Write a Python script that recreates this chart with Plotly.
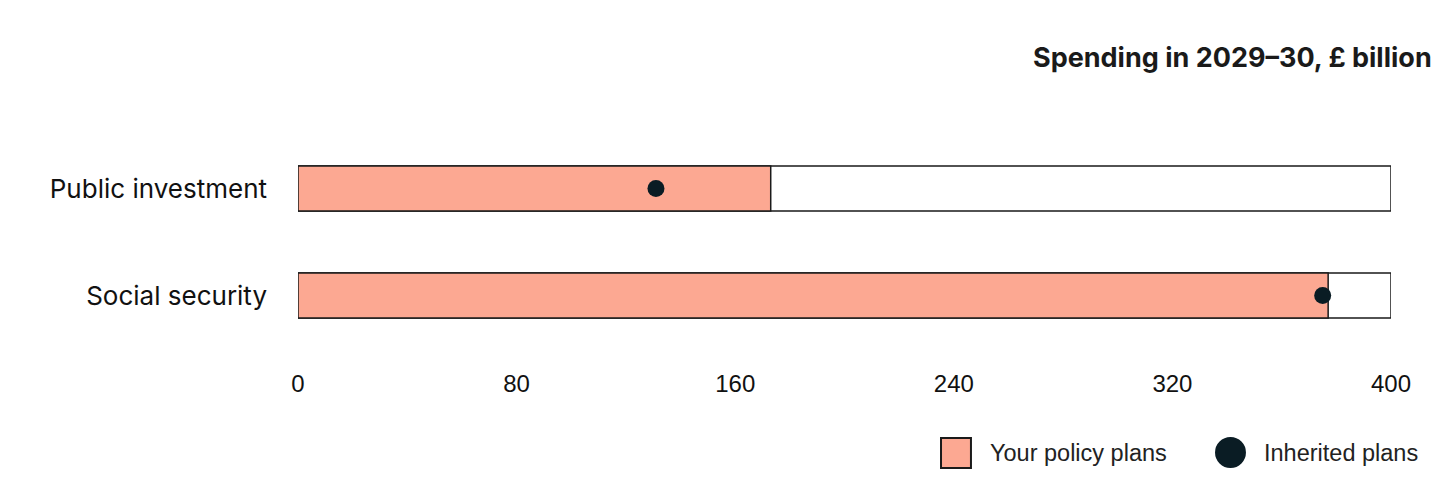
import plotly.graph_objects as go

categories = ["Public investment", "Social security"]
axis_max = [400, 400]
policy_plans = [173, 377]
inherited_plans = [131, 375]
tick_values = [0, 80, 160, 240, 320, 400]
tick_labels = ["0", "80", "160", "240", "320", "400"]

PINK = "#FCA892"
DARK = "#0A1C24"
EDGE = "#1a1a1a"

fig = go.Figure()
fig.add_trace(go.Bar(
    y=categories, x=axis_max, orientation="h", width=0.42,
    marker=dict(color="white", line=dict(color=EDGE, width=1.5)),
    showlegend=False, hoverinfo="skip"))
fig.add_trace(go.Bar(
    y=categories, x=policy_plans, orientation="h", width=0.42,
    marker=dict(color=PINK, line=dict(color=EDGE, width=1.5)),
    name="Your policy plans", showlegend=False))
fig.add_trace(go.Scatter(
    y=categories, x=inherited_plans, mode="markers",
    marker=dict(color=DARK, size=17),
    name="Inherited plans", showlegend=False))

fig.update_layout(
    width=1456, height=504,
    margin=dict(l=290, r=73, t=127, b=163),
    paper_bgcolor="white", plot_bgcolor="white",
    barmode="overlay",
    xaxis=dict(range=[0, 400], tickvals=tick_values, ticktext=tick_labels,
               showgrid=False, zeroline=False, showline=False, ticks="",
               ticklabelstandoff=18,
               tickfont=dict(family="Liberation Sans, Arial", size=24, color="#111")),
    yaxis=dict(categoryorder="array", categoryarray=categories,
               range=[1.5, -0.5], autorange=False, showgrid=False, zeroline=False,
               showline=False, ticks="", ticklabelstandoff=30,
               tickfont=dict(family="Inter, Lato, sans-serif", size=26, color="#111")),
    showlegend=False,
)

fig.add_annotation(
    text="<b>Spending in 2029–30, £ billion</b>", xref="paper", yref="paper",
    x=1.039, y=1.36, xanchor="right", yanchor="middle", showarrow=False,
    font=dict(family="Inter, Lato, sans-serif", size=27, color="#1a1a1a"))

# Legend (drawn manually)
fig.add_shape(type="rect", xref="paper", yref="paper",
              x0=0.5883, x1=0.6157, y0=-0.556, y1=-0.416,
              fillcolor=PINK, line=dict(color=EDGE, width=2))
fig.add_annotation(text="Your policy plans", xref="paper", yref="paper",
                   x=0.6313, y=-0.486, xanchor="left", yanchor="middle", showarrow=False,
                   font=dict(family="Liberation Sans, Arial", size=23.5, color="#222"))
fig.add_shape(type="circle", xref="paper", yref="paper",
              x0=0.839, x1=0.8673, y0=-0.556, y1=-0.411,
              fillcolor=DARK, line=dict(color=DARK, width=0))
fig.add_annotation(text="Inherited plans", xref="paper", yref="paper",
                   x=0.882, y=-0.486, xanchor="left", yanchor="middle", showarrow=False,
                   font=dict(family="Liberation Sans, Arial", size=23.5, color="#222"))

fig.write_html("out.html")
